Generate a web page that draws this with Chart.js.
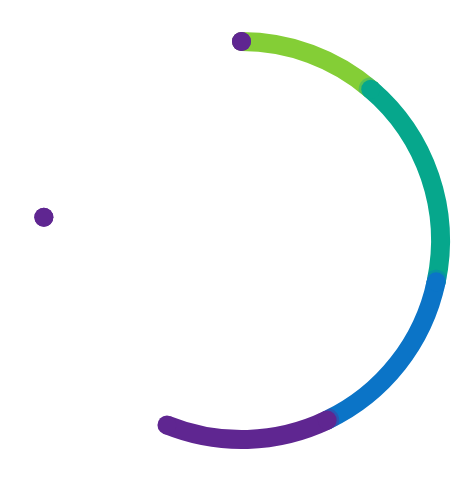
<!DOCTYPE html>
<html>
<head>
<meta charset="utf-8">
<style>
  html, body { margin: 0; padding: 0; background: #fff; }
  #wrap { width: 472px; height: 484px; }
</style>
</head>
<body>
<div id="wrap"><canvas id="ring"></canvas></div>
<script src="https://cdn.jsdelivr.net/npm/chart.js@4/dist/chart.umd.min.js"></script>
<script>
// ring pieces, in degrees, clockwise from the top (zero = marker dot)
const categories = ['A', 'B', 'C', 'D', 'gap1', 'marker', 'gap2', 'start'];
const values = [40.5, 61.5, 52.5, 47.5, 74.7, 0, 83.3, 0];

// draws every arc as a thick band with round caps, in data order,
// so each piece's start cap sits over the end of the one before it
const roundRing = {
    id: 'roundRing',
    beforeDatasetDraw(chart, args) {
        const ctx = chart.ctx
        const arcs = args.meta.data
        arcs.forEach((arc, i) => {
            const color = arc.options.backgroundColor
            if (color === 'transparent') return
            const p = arc.getProps(['x', 'y', 'startAngle', 'endAngle', 'innerRadius', 'outerRadius'], true)
            const r = (p.innerRadius + p.outerRadius) / 2
            const half = (p.outerRadius - p.innerRadius) / 2
            const cap = (a, size) => {
                ctx.beginPath()
                ctx.arc(p.x + Math.cos(a) * r, p.y + Math.sin(a) * r, size, 0, Math.PI * 2)
                ctx.fill()
            }
            ctx.save()
            ctx.fillStyle = color
            ctx.strokeStyle = color
            // soft edge where this piece runs over the previous one (kept inside the band)
            const prev = arcs[i - 1]
            if (prev && prev.options.backgroundColor !== 'transparent') {
                ctx.save()
                ctx.beginPath()
                ctx.arc(p.x, p.y, p.outerRadius, 0, Math.PI * 2)
                ctx.arc(p.x, p.y, p.innerRadius, 0, Math.PI * 2, true)
                ctx.clip()
                ctx.globalAlpha = 0.35
                cap(p.startAngle, half + 2.5)
                ctx.restore()
            }
            if (p.endAngle > p.startAngle) {
                ctx.lineWidth = half * 2
                ctx.lineCap = 'butt'
                ctx.beginPath()
                ctx.arc(p.x, p.y, r, p.startAngle, p.endAngle)
                ctx.stroke()
            }
            cap(p.startAngle, half)
            cap(p.endAngle, half)
            ctx.restore()
        })
        return false
    }
}

new Chart(document.getElementById('ring'), {
    type: 'doughnut',
    data: {
        labels: categories,
        datasets: [{
            data: values,
            backgroundColor: ['#84ce36', '#06a78c', '#0b74c7', '#5f2691', 'transparent', '#5f2691', 'transparent', '#5f2691'],
            borderWidth: 0
        }]
    },
    options: {
        responsive: true,
        maintainAspectRatio: false,
        animation: false,
        events: [],
        cutout: 189.5, //pixels, leaves a ~19px band
        layout: {
            padding: { left: 33, right: 22, top: 32, bottom: 35 }
        },
        plugins: {
            legend: { display: false },
            tooltip: { enabled: false }
        }
    },
    plugins: [roundRing]
})
</script>
</body>
</html>
